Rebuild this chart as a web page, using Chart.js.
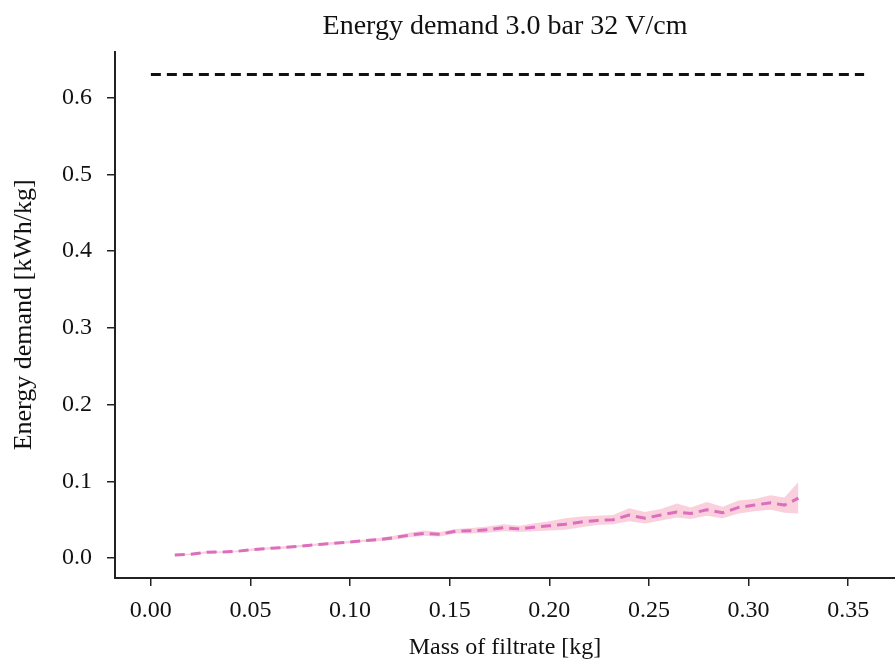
<!DOCTYPE html>
<html>
<head>
<meta charset="utf-8">
<script src="https://cdn.jsdelivr.net/npm/chart.js@4"></script>
<style>
  body { margin: 0; background: #fff; }
  #wrap { width: 895px; height: 663px; }
</style>
</head>
<body>
<div id="wrap"><canvas id="energy-chart"></canvas></div>
<script>
// mass of filtrate [kg]
const mass = [0.012, 0.020, 0.028, 0.036, 0.044, 0.051, 0.059, 0.067, 0.075, 0.083,
              0.091, 0.098, 0.106, 0.114, 0.122, 0.130, 0.137, 0.145, 0.153, 0.161,
              0.169, 0.177, 0.185, 0.192, 0.200, 0.208, 0.216, 0.224, 0.232, 0.240,
              0.248, 0.256, 0.264, 0.271, 0.279, 0.287, 0.295, 0.303, 0.311, 0.318, 0.325];
// mean energy demand [kWh/kg]
const demandMean = [0.004, 0.005, 0.0075, 0.008, 0.009, 0.011, 0.0125, 0.0137, 0.0156, 0.0175,
                    0.019, 0.0205, 0.0225, 0.024, 0.0265, 0.030, 0.032, 0.031, 0.035, 0.0355,
                    0.037, 0.0395, 0.038, 0.040, 0.042, 0.044, 0.047, 0.049, 0.050, 0.056,
                    0.052, 0.056, 0.060, 0.058, 0.063, 0.059, 0.066, 0.069, 0.072, 0.069, 0.078];
const demandLow = [0.003, 0.004, 0.006, 0.007, 0.008, 0.0095, 0.011, 0.012, 0.014, 0.016,
                   0.0175, 0.019, 0.021, 0.022, 0.024, 0.027, 0.029, 0.028, 0.032, 0.032,
                   0.033, 0.035, 0.034, 0.035, 0.036, 0.037, 0.040, 0.043, 0.044, 0.048,
                   0.045, 0.049, 0.053, 0.051, 0.055, 0.052, 0.058, 0.061, 0.063, 0.059, 0.058];
const demandHigh = [0.005, 0.006, 0.009, 0.009, 0.010, 0.0125, 0.014, 0.0155, 0.017, 0.019,
                    0.021, 0.022, 0.024, 0.026, 0.029, 0.033, 0.036, 0.034, 0.038, 0.039,
                    0.041, 0.044, 0.042, 0.045, 0.048, 0.052, 0.054, 0.055, 0.056, 0.065,
                    0.060, 0.064, 0.071, 0.066, 0.073, 0.067, 0.075, 0.077, 0.082, 0.079, 0.099];
// reference level (black dashed line)
const refMass = [0.0, 0.358];
const refDemand = [0.63, 0.63];

const xTicks = [0.00, 0.05, 0.10, 0.15, 0.20, 0.25, 0.30, 0.35];
const yTicks = [0.0, 0.1, 0.2, 0.3, 0.4, 0.5, 0.6];

const toPoints = (xs, ys) => xs.map((x, i) => ({ x: x, y: ys[i] }));

const serif = 'Liberation Serif, Times New Roman, serif';
const ink = '#222';

new Chart(document.getElementById('energy-chart'), {
    type: 'line',
    data: {
        datasets: [
            {
                label: 'reference',
                data: toPoints(refMass, refDemand),
                borderColor: '#111',
                borderWidth: 3,
                borderDash: [10, 6],
                pointRadius: 0,
                fill: false,
                order: 0
            },
            {
                label: 'mean',
                data: toPoints(mass, demandMean),
                borderColor: '#dd6dbd',
                borderWidth: 3,
                borderDash: [10, 6],
                pointRadius: 0,
                fill: false,
                order: 0
            },
            {
                label: 'low',
                data: toPoints(mass, demandLow),
                borderWidth: 0,
                borderColor: 'rgba(0,0,0,0)',
                pointRadius: 0,
                fill: false,
                order: 2
            },
            {
                label: 'high',
                data: toPoints(mass, demandHigh),
                borderWidth: 0,
                borderColor: 'rgba(0,0,0,0)',
                backgroundColor: 'rgba(245, 150, 180, 0.45)',
                pointRadius: 0,
                fill: '-1',
                order: 1
            }
        ]
    },
    options: {
        responsive: true,
        maintainAspectRatio: false,
        animation: false,
        layout: { padding: 0 },
        plugins: {
            legend: { display: false },
            tooltip: { enabled: false },
            title: {
                display: true,
                fullSize: false,
                text: 'Energy demand 3.0 bar 32 V/cm',
                color: '#111',
                font: { family: serif, size: 28, weight: 'normal' },
                padding: { top: 10, bottom: 8 }
            }
        },
        scales: {
            x: {
                type: 'linear',
                min: -0.018,
                max: 0.3735,
                afterFit: function(scale) { scale.height = 85; },
                afterBuildTicks: function(scale) { scale.ticks = xTicks.map(v => ({ value: v })); },
                ticks: {
                    color: '#111',
                    padding: 10,
                    font: { family: serif, size: 24 },
                    callback: v => v.toFixed(2)
                },
                grid: { drawOnChartArea: false, drawTicks: true, tickLength: 8, color: ink, lineWidth: 1.5 },
                border: { color: ink, width: 2 },
                title: {
                    display: true,
                    text: 'Mass of filtrate [kg]',
                    color: '#111',
                    font: { family: serif, size: 24 },
                    padding: { top: 0, bottom: 1 }
                }
            },
            y: {
                min: -0.026,
                max: 0.66,
                afterFit: function(scale) { scale.width = 115; },
                afterBuildTicks: function(scale) { scale.ticks = yTicks.map(v => ({ value: v })); },
                ticks: {
                    color: '#111',
                    padding: 15,
                    font: { family: serif, size: 24 },
                    callback: v => v.toFixed(1)
                },
                grid: { drawOnChartArea: false, drawTicks: true, tickLength: 8, color: ink, lineWidth: 1.5 },
                border: { color: ink, width: 2 },
                title: {
                    display: true,
                    text: 'Energy demand [kWh/kg]',
                    color: '#111',
                    font: { family: serif, size: 26 },
                    padding: { top: 9, bottom: 0 }
                }
            }
        }
    }
});
</script>
</body>
</html>
